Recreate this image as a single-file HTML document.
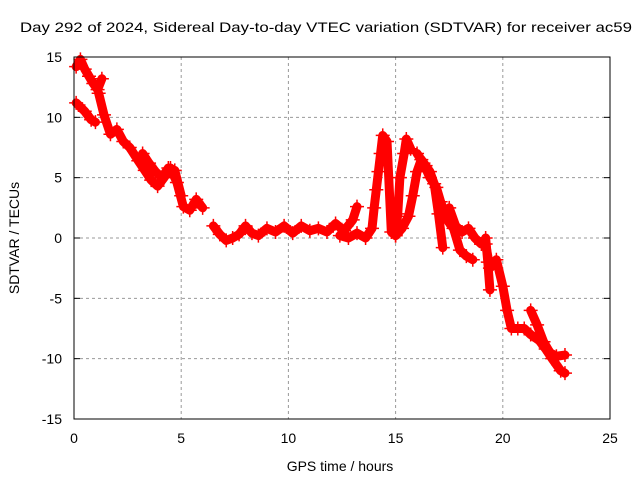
<!DOCTYPE html>
<html><head><meta charset="utf-8"><style>
body{margin:0;background:#fff;}
svg text{font-family:"Liberation Sans",sans-serif;font-size:14px;fill:#000;}
</style></head><body>
<svg id="chart" width="640" height="480">
<text x="20" y="32" textLength="612" lengthAdjust="spacingAndGlyphs">Day 292 of 2024, Sidereal Day-to-day VTEC variation (SDTVAR) for receiver ac59</text>
<text x="340" y="471" text-anchor="middle">GPS time / hours</text>
<text x="19" y="238" text-anchor="middle" transform="rotate(-90 19 238)">SDTVAR / TECUs</text>
<g id="grid"></g><g id="marks"></g>
<rect x="74" y="57" width="536" height="362" fill="none" stroke="#000" stroke-width="1"/>
</svg>
<script>
const xTicks=[0,5,10,15,20,25];
const yTicks=[15,10,5,0,-5,-10,-15];
const t1=[0.1,0.3,0.5,0.7,0.9,1.1,1.3];
const v1=[14.2,14.8,14.0,13.4,12.8,12.3,13.2];
const t2=[0.1,0.5,0.8,1.0];
const v2=[11.2,10.5,9.8,9.6];
const t3=[1.15,1.4,1.7,2.0,2.3,2.6,3.0,3.3,3.6,3.9,4.2,4.5,4.8,5.1,5.4,5.7,6.0];
const v3=[12.0,10.2,8.6,9.0,8.0,7.5,6.4,5.6,4.8,4.3,5.0,5.8,4.6,2.6,2.3,3.2,2.5];
const t4=[3.2,3.5,3.8,4.1,4.4,4.7,5.0];
const v4=[7.0,6.2,5.5,5.0,5.8,5.6,3.5];
const t5=[6.5,6.8,7.1,7.4,7.7,8.0,8.3,8.6,9.0,9.4,9.8,10.2,10.6,11.0,11.4,11.8,12.2,12.6,13.0,13.2];
const v5=[1.0,0.3,-0.2,0.0,0.3,1.0,0.4,0.2,0.8,0.5,1.0,0.4,1.0,0.6,0.8,0.5,1.2,0.6,1.5,2.6];
const t6=[12.4,12.8,13.2,13.6,13.9,14.0,14.1,14.2,14.3,14.4,14.6,14.8,15.0,15.1,15.2,15.4,15.5,15.7];
const v6=[0.2,0.0,0.4,0.0,0.8,2.5,4.0,5.5,7.0,8.5,8.0,0.5,0.2,2.0,5.0,7.0,8.2,7.4];
const t7=[15.0,15.3,15.6,15.8,16.0,16.2,16.4,16.6,16.8,17.0,17.2];
const v7=[0.2,0.8,1.8,3.5,5.5,6.5,6.0,5.5,4.5,2.0,-0.8];
const t8=[16.0,16.3,16.6,16.9,17.1,17.4,17.7,18.0,18.3,18.6];
const v8=[7.0,6.2,5.0,4.2,3.0,1.5,0.8,-1.0,-1.5,-1.8];
const t9=[17.5,17.8,18.1,18.4,18.7,19.0];
const v9=[2.5,1.0,0.5,0.8,0.0,-0.5];
const t10=[19.2,19.4,19.7,20.0,20.2,20.4,20.7,21.0,21.3,21.7,22.0,22.3,22.7,22.9];
const v10=[-0.5,-2.5,-1.8,-4.0,-6.0,-7.5,-7.5,-7.5,-8.0,-8.5,-9.2,-10.0,-11.0,-11.2];
const t11=[21.3,21.6,21.9,22.2,22.5,22.9];
const v11=[-6.0,-7.2,-8.6,-9.5,-9.8,-9.7];
const t12=[19.2,19.3,19.4];
const v12=[0.0,-2.0,-4.3];
const tracks=[[t1,v1],[t2,v2],[t3,v3],[t4,v4],[t5,v5],[t6,v6],[t7,v7],[t8,v8],[t9,v9],[t10,v10],[t11,v11],[t12,v12]];
const ns="http://www.w3.org/2000/svg";
const X=t=>74+t*(536/25);
const Y=v=>238-v*(362/30);
const grid=document.getElementById('grid'),marks=document.getElementById('marks');
function mk(tag,attrs,parent){const e=document.createElementNS(ns,tag);for(const k in attrs)e.setAttribute(k,attrs[k]);parent.appendChild(e);return e;}
xTicks.forEach(t=>{
 if(t>0&&t<25){const g=mk('line',{x1:X(t),x2:X(t),y1:57,y2:419,stroke:'#999','stroke-dasharray':'3,3'},grid);
 
 }
 const lb=mk('text',{x:X(t),y:443,'text-anchor':'middle'},grid);lb.textContent=t;
 
 
});
yTicks.forEach(v=>{
 if(v>-15&&v<15){const g=mk('line',{x1:74,x2:610,y1:Y(v),y2:Y(v),stroke:'#999','stroke-dasharray':'3,3'},grid);
 
 }
 mk('line',{x1:74,x2:80,y1:Y(v),y2:Y(v),stroke:'#000'},grid);
 mk('line',{x1:604,x2:610,y1:Y(v),y2:Y(v),stroke:'#000'},grid);
 const lb=mk('text',{x:62,y:Y(v)+5,'text-anchor':'end'},grid);lb.textContent=v;
 
 
});
tracks.forEach(([ts,vs])=>{
 const pts=ts.map((t,i)=>X(t)+','+Y(vs[i])).join(' ');
 const pl=mk('polyline',{points:pts,fill:'none',stroke:'#f00','stroke-width':9,'stroke-linejoin':'round','stroke-linecap':'round'},marks);
 
 
 ts.forEach((t,i)=>{
  const p=mk('path',{d:`M${X(t)-7},${Y(vs[i])}h14M${X(t)},${Y(vs[i])-7}v14`,stroke:'#f00','stroke-width':1.5},marks);
  
  
 });
});
</script>
</body></html>
